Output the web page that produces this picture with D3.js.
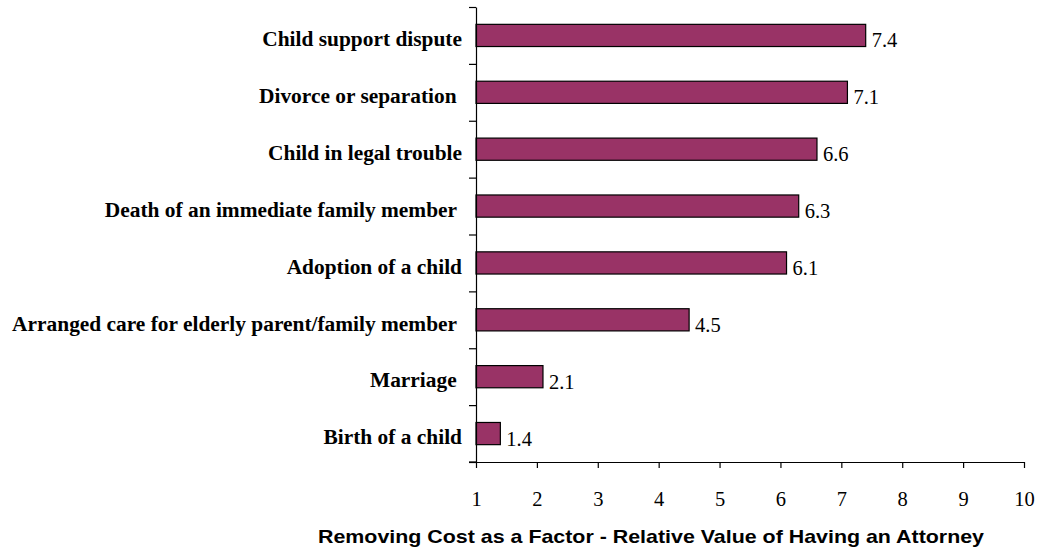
<!DOCTYPE html>
<html><head><meta charset="utf-8">
<script src="https://cdn.jsdelivr.net/npm/d3@7"></script>
<style>html,body{margin:0;padding:0;background:#fff;} svg{display:block;}</style>
</head><body>
<svg id="chart" width="1037" height="551"></svg>
<script>
const categories = [
  "Child support dispute",
  "Divorce or separation ",
  "Child in legal trouble",
  "Death of an immediate family member ",
  "Adoption of a child",
  "Arranged care for elderly parent/family member ",
  "Marriage ",
  "Birth of a child"
];
const values = [7.4, 7.1, 6.6, 6.3, 6.1, 4.5, 2.1, 1.4];
const xTicks = [1, 2, 3, 4, 5, 6, 7, 8, 9, 10];
const xTitle = "Removing Cost as a Factor - Relative Value of Having an Attorney";

(function () {
const svg = d3.select("#chart");
const mLeft = 476, mRight = 1024, mTop = 7, mBottom = 462;

const x = d3.scaleLinear().domain([1, 10]).range([mLeft, mRight]);
const y = d3.scaleBand().domain(categories).range([mTop, mBottom])
  .paddingInner(0.61).paddingOuter(0.305);

// bars
svg.append("g").selectAll("rect").data(values).join("rect")
  .attr("x", x(1))
  .attr("y", (d, i) => y(categories[i]))
  .attr("width", d => x(d) - x(1))
  .attr("height", y.bandwidth())
  .attr("fill", "#993366")
  .attr("stroke", "#000")
  .attr("stroke-width", 1.2);

// value labels
svg.append("g").selectAll("text").data(values).join("text")
  .attr("x", d => x(d) + 6)
  .attr("y", (d, i) => y(categories[i]) + y.bandwidth() / 2 + 12)
  .attr("font-family", "'Liberation Serif', 'Times New Roman', serif")
  .attr("font-size", 20.5)
  .attr("fill", "#000")
  .text(d => d.toFixed(1));

// y axis with ticks at band boundaries
const yb = d3.scaleLinear().domain([0, categories.length]).range([mTop, mBottom]);
const yAxis = d3.axisLeft(yb).tickValues(d3.range(categories.length + 1))
  .tickFormat("").tickSize(7).tickSizeOuter(0);
const gy = svg.append("g").attr("transform", `translate(${mLeft},0)`).call(yAxis);
gy.select(".domain").attr("stroke", "#000").attr("stroke-width", 1.2);
gy.selectAll(".tick line").attr("stroke", "#000").attr("stroke-width", 1.2);

// category labels
svg.append("g").selectAll("text").data(categories).join("text")
  .attr("x", 462)
  .attr("y", d => y(d) + y.bandwidth() / 2 + 10.7)
  .attr("text-anchor", "end")
  .attr("font-family", "'Liberation Serif', 'Times New Roman', serif")
  .attr("font-weight", "bold")
  .attr("font-size", 21.4)
  .attr("fill", "#000")
  .style("white-space", "pre")
  .text(d => d);

// x axis
const xAxis = d3.axisBottom(x).tickValues(xTicks).tickFormat(d3.format("d"))
  .tickSize(6).tickSizeOuter(0);
const gx = svg.append("g").attr("transform", `translate(0,${mBottom})`).call(xAxis);
gx.select(".domain").attr("stroke", "#000").attr("stroke-width", 1.2);
gx.selectAll(".tick line").attr("stroke", "#000").attr("stroke-width", 1.2);
gx.selectAll(".tick text")
  .attr("font-family", "'Liberation Serif', 'Times New Roman', serif")
  .attr("font-size", 20.5)
  .attr("fill", "#000")
  .attr("dy", null)
  .attr("y", 44);
svg.append("line").attr("x1", mLeft - 7).attr("x2", mLeft)
  .attr("y1", mBottom).attr("y2", mBottom)
  .attr("stroke", "#000").attr("stroke-width", 1.2);

// x title
svg.append("text")
  .attr("x", 318)
  .attr("y", 543)
  .attr("font-family", "'Liberation Sans', Arial, sans-serif")
  .attr("font-weight", "bold")
  .attr("font-size", 19)
  .attr("textLength", 666)
  .attr("lengthAdjust", "spacingAndGlyphs")
  .attr("fill", "#000")
  .text(xTitle);
})();
</script>
</body></html>
